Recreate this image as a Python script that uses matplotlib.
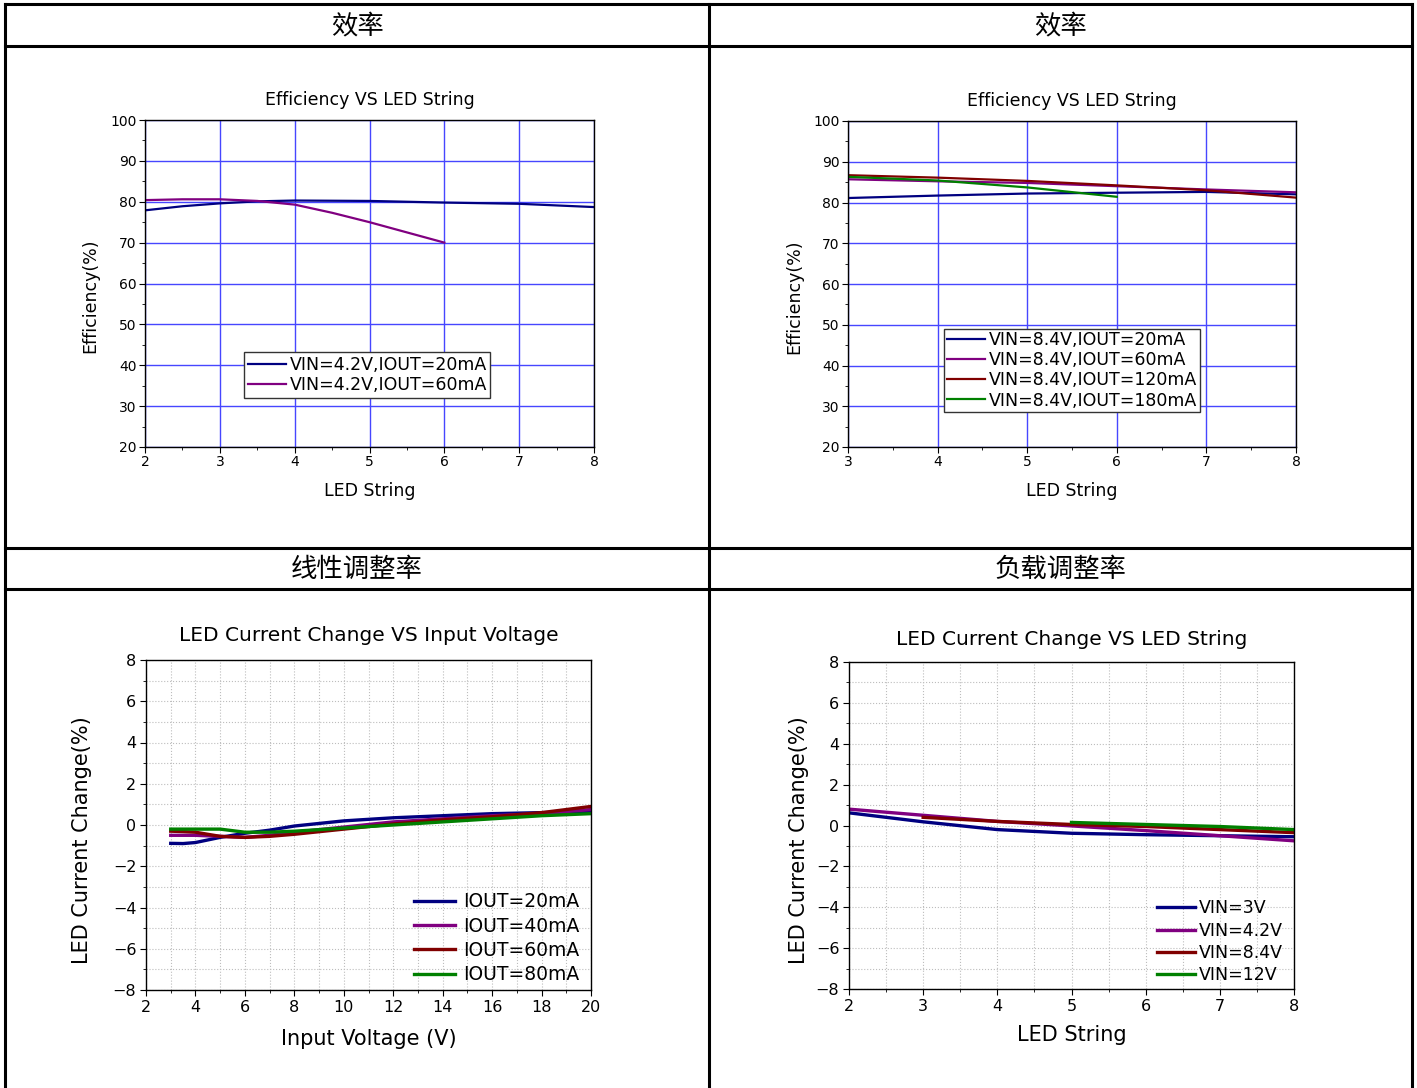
import matplotlib
matplotlib.use("Agg")
import matplotlib.pyplot as plt
from matplotlib.lines import Line2D
from matplotlib.ticker import MultipleLocator

plt.rcParams['font.family'] = ['DejaVu Sans']

# ---- data: efficiency, VIN=4.2V
eff42_x20 = [2, 2.5, 3, 3.5, 4, 5, 6, 7, 8]
eff42_y20 = [77.9, 78.9, 79.6, 80.1, 80.3, 80.2, 79.8, 79.5, 78.7]
eff42_x60 = [2, 2.5, 3, 3.5, 4, 4.5, 5, 5.5, 6]
eff42_y60 = [80.4, 80.6, 80.6, 80.2, 79.3, 77.3, 75.0, 72.5, 70.0]
eff42_labels = ["VIN=4.2V,IOUT=20mA", "VIN=4.2V,IOUT=60mA"]

# ---- data: efficiency, VIN=8.4V
eff84_x = [3, 4, 5, 6, 7, 8]
eff84_y20 = [81.1, 81.7, 82.2, 82.4, 82.6, 82.0]
eff84_y60 = [85.7, 85.2, 84.8, 84.0, 83.2, 82.5]
eff84_y120 = [86.7, 86.1, 85.3, 84.2, 83.0, 81.2]
eff84_x180 = [3, 4, 5, 6]
eff84_y180 = [86.3, 85.4, 83.7, 81.4]
eff84_labels = ["VIN=8.4V,IOUT=20mA", "VIN=8.4V,IOUT=60mA",
                "VIN=8.4V,IOUT=120mA", "VIN=8.4V,IOUT=180mA"]

# ---- data: line regulation
vin = [3, 3.5, 4, 5, 6, 7, 8, 10, 12, 14, 16, 18, 20]
line_20 = [-0.89, -0.9, -0.85, -0.6, -0.4, -0.25, -0.05, 0.2, 0.35, 0.45, 0.55, 0.6, 0.65]
line_40 = [-0.5, -0.5, -0.5, -0.55, -0.6, -0.5, -0.35, -0.1, 0.15, 0.3, 0.45, 0.55, 0.75]
line_60 = [-0.3, -0.32, -0.35, -0.55, -0.6, -0.55, -0.45, -0.2, 0.05, 0.25, 0.4, 0.6, 0.9]
line_80 = [-0.2, -0.2, -0.2, -0.2, -0.35, -0.35, -0.3, -0.15, 0.0, 0.15, 0.3, 0.45, 0.55]
line_labels = ["IOUT=20mA", "IOUT=40mA", "IOUT=60mA", "IOUT=80mA"]

# ---- data: load regulation
led_x = [2, 3, 4, 5, 6, 7, 8]
load_3v = [0.62, 0.18, -0.2, -0.38, -0.45, -0.5, -0.55]
load_42v = [0.8, 0.5, 0.2, -0.02, -0.25, -0.5, -0.75]
led_x84 = [3, 4, 5, 6, 7, 8]
load_84v = [0.4, 0.2, 0.05, -0.05, -0.2, -0.35]
led_x12 = [5, 6, 7, 8]
load_12v = [0.15, 0.05, -0.05, -0.2]
load_labels = ["VIN=3V", "VIN=4.2V", "VIN=8.4V", "VIN=12V"]

headers = ["效率", "效率", "线性调整率", "负载调整率"]

NAVY, PURPLE, RED, GREEN = "#000080", "#800080", "#800000", "#008000"

fig = plt.figure(figsize=(14.17, 10.88), dpi=100)
W, H = 1417, 1088

def fx(px):
    return px / W

def fy(py):
    return 1 - py / H

# table frame
for x in [5, 709, 1412]:
    fig.add_artist(Line2D([fx(x), fx(x)], [fy(4), 0], color="black", lw=2.2))
for y in [4, 46, 548, 589]:
    fig.add_artist(Line2D([fx(5), fx(1412)], [fy(y), fy(y)], color="black", lw=2.2))

cjk = ['Noto Sans CJK SC', 'DejaVu Sans']
for txt, (x, y) in zip(headers, [(357, 26), (1060, 26), (357, 569), (1060, 569)]):
    fig.text(fx(x), fy(y), txt, ha="center", va="center", fontsize=19, family=cjk)


def style_top(ax, xlab):
    ax.set_ylim(20, 100)
    ax.yaxis.set_major_locator(MultipleLocator(10))
    ax.yaxis.set_minor_locator(MultipleLocator(5))
    ax.xaxis.set_major_locator(MultipleLocator(1))
    ax.xaxis.set_minor_locator(MultipleLocator(0.5))
    ax.grid(True, which="major", color="#4646ff", lw=1.0)
    ax.tick_params(which="major", direction="out", length=4, labelsize=10, pad=2)
    ax.tick_params(which="minor", direction="out", length=2)
    for s in ax.spines.values():
        s.set_linewidth(1.0)
    ax.set_title("Efficiency VS LED String", fontsize=12.5, pad=11)
    ax.set_xlabel("LED String", fontsize=12.5, labelpad=9)
    ax.set_ylabel("Efficiency(%)", fontsize=12.5)
    ax.yaxis.set_label_coords(xlab, 0.462)


# top-left
ax1 = fig.add_axes([fx(145), fy(447), fx(594) - fx(145), fy(120) - fy(447)])
ax1.plot(eff42_x20, eff42_y20, color=NAVY, lw=1.6, label=eff42_labels[0])
ax1.plot(eff42_x60, eff42_y60, color=PURPLE, lw=1.6, label=eff42_labels[1])
ax1.set_xlim(2, 8)
style_top(ax1, -0.102)
leg = ax1.legend(loc="lower center", bbox_to_anchor=(0.495, 0.15), fontsize=12.5,
                 fancybox=False, edgecolor="#333333", framealpha=1,
                 handlelength=2.2, handletextpad=0.2, labelspacing=0.15,
                 borderpad=0.2, borderaxespad=0)
leg.get_frame().set_linewidth(1.0)

# top-right
ax2 = fig.add_axes([fx(848), fy(447), fx(1296) - fx(848), fy(121) - fy(447)])
ax2.plot(eff84_x, eff84_y20, color=NAVY, lw=1.6, label=eff84_labels[0])
ax2.plot(eff84_x, eff84_y60, color=PURPLE, lw=1.6, label=eff84_labels[1])
ax2.plot(eff84_x, eff84_y120, color=RED, lw=1.6, label=eff84_labels[2])
ax2.plot(eff84_x180, eff84_y180, color=GREEN, lw=1.6, label=eff84_labels[3])
ax2.set_xlim(3, 8)
style_top(ax2, -0.100)
leg = ax2.legend(loc="lower center", bbox_to_anchor=(0.5, 0.107), fontsize=12.5,
                 fancybox=False, edgecolor="#333333", framealpha=1,
                 handlelength=2.2, handletextpad=0.2, labelspacing=0.12,
                 borderpad=0.15, borderaxespad=0)
leg.get_frame().set_linewidth(1.0)


def style_bottom(ax, xmaj, xmin, xlab):
    ax.set_ylim(-8, 8)
    ax.yaxis.set_major_locator(MultipleLocator(2))
    ax.yaxis.set_minor_locator(MultipleLocator(1))
    ax.xaxis.set_major_locator(MultipleLocator(xmaj))
    ax.xaxis.set_minor_locator(MultipleLocator(xmin))
    ax.grid(True, which="both", color="#bdbdbd", lw=0.8, ls=":")
    ax.tick_params(which="major", direction="out", length=4, labelsize=11.5, pad=3)
    ax.tick_params(which="minor", direction="out", length=2)
    for s in ax.spines.values():
        s.set_linewidth(1.0)
    ax.set_ylabel("LED Current Change(%)", fontsize=15)
    ax.yaxis.set_label_coords(xlab, 0.455)


# bottom-left
ax3 = fig.add_axes([fx(146), fy(990), fx(591) - fx(146), fy(660) - fy(990)])
for ys, c, lab in zip([line_20, line_40, line_60, line_80],
                      [NAVY, PURPLE, RED, GREEN], line_labels):
    ax3.plot(vin, ys, color=c, lw=2.4, label=lab)
ax3.set_xlim(2, 20)
style_bottom(ax3, 2, 1, -0.121)
ax3.set_title("LED Current Change VS Input Voltage", fontsize=14.5, pad=14)
ax3.set_xlabel("Input Voltage (V)", fontsize=15, labelpad=10)
ax3.legend(loc="lower right", bbox_to_anchor=(0.99, -0.005), fontsize=13.5,
           frameon=False, handlelength=2.2, handletextpad=0.4,
           labelspacing=0.28, borderaxespad=0)

# bottom-right
ax4 = fig.add_axes([fx(849), fy(989), fx(1294) - fx(849), fy(662) - fy(989)])
ax4.plot(led_x, load_3v, color=NAVY, lw=2.4, label=load_labels[0])
ax4.plot(led_x, load_42v, color=PURPLE, lw=2.4, label=load_labels[1])
ax4.plot(led_x84, load_84v, color=RED, lw=2.4, label=load_labels[2])
ax4.plot(led_x12, load_12v, color=GREEN, lw=2.4, label=load_labels[3])
ax4.set_xlim(2, 8)
style_bottom(ax4, 1, 0.5, -0.090)
ax4.set_title("LED Current Change VS LED String", fontsize=14.5, pad=12)
ax4.set_xlabel("LED String", fontsize=15, labelpad=8)
ax4.legend(loc="lower right", bbox_to_anchor=(0.99, -0.007), fontsize=12.5,
           frameon=False, handlelength=2.2, handletextpad=0.2,
           labelspacing=0.25, borderaxespad=0)

fig.savefig("out.png", dpi=100)
